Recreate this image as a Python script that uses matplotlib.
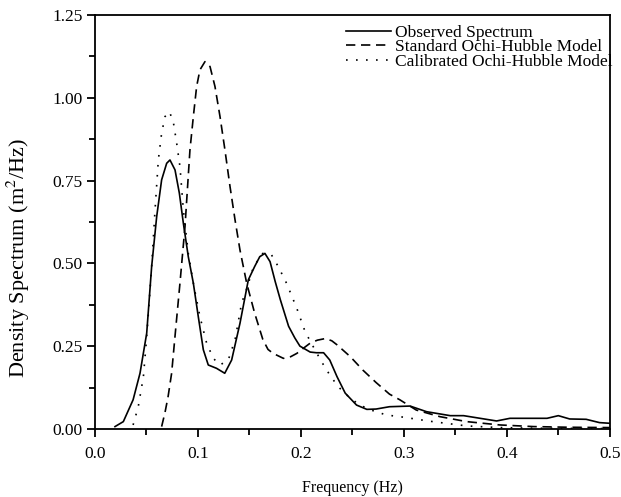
import numpy as np
import matplotlib
matplotlib.use('Agg')
import matplotlib.pyplot as plt

# Observed spectrum
obs_f = [0.0194, 0.0275, 0.037, 0.0437, 0.0502, 0.055, 0.0599, 0.0647, 0.0696, 0.0728,
         0.0777, 0.0819, 0.0858, 0.0906, 0.0955, 0.1003, 0.1052, 0.110, 0.118, 0.126,
         0.1327, 0.1408, 0.1489, 0.155, 0.160, 0.165, 0.170, 0.175, 0.180, 0.188,
         0.194, 0.199, 0.209, 0.215, 0.222, 0.228, 0.235, 0.243, 0.254, 0.264,
         0.273, 0.286, 0.306, 0.322, 0.345, 0.358, 0.39, 0.403, 0.439, 0.45,
         0.461, 0.477, 0.49, 0.5]
obs_s = [0.007, 0.022, 0.088, 0.168, 0.289, 0.49, 0.641, 0.752, 0.802, 0.812,
         0.782, 0.712, 0.621, 0.52, 0.44, 0.339, 0.239, 0.193, 0.183, 0.168,
         0.208, 0.319, 0.45, 0.49, 0.52, 0.53, 0.505, 0.445, 0.39, 0.31,
         0.275, 0.25, 0.232, 0.23, 0.23, 0.208, 0.158, 0.108, 0.072, 0.059,
         0.06, 0.067, 0.069, 0.052, 0.04, 0.04, 0.024, 0.032, 0.032, 0.04,
         0.03, 0.029, 0.019, 0.017]

# Standard Ochi-Hubble model
std_f = [0.0647, 0.068, 0.071, 0.0744, 0.078, 0.0825, 0.0874, 0.0922, 0.0955, 0.0987,
         0.1019, 0.1068, 0.1117, 0.1165, 0.1214, 0.1262, 0.1311, 0.136, 0.1408, 0.1473,
         0.155, 0.163, 0.168, 0.173, 0.183, 0.19, 0.196, 0.203, 0.209, 0.216,
         0.224, 0.23, 0.235, 0.248, 0.26, 0.273, 0.286, 0.296, 0.312, 0.335,
         0.361, 0.393, 0.426, 0.46, 0.5]
std_s = [0.007, 0.05, 0.098, 0.168, 0.29, 0.44, 0.611, 0.842, 0.943, 1.034,
         1.084, 1.109, 1.094, 1.034, 0.943, 0.842, 0.732, 0.631, 0.54, 0.44,
         0.35, 0.27, 0.24, 0.228, 0.213, 0.218, 0.228, 0.245, 0.259, 0.268,
         0.273, 0.266, 0.254, 0.218, 0.178, 0.14, 0.105, 0.088, 0.057, 0.037,
         0.022, 0.012, 0.007, 0.005, 0.004]

# Calibrated Ochi-Hubble model
cal_f = [0.037, 0.042, 0.047, 0.050, 0.053, 0.055, 0.0583, 0.0615, 0.0647, 0.068,
         0.0722, 0.076, 0.0793, 0.0825, 0.0858, 0.0906, 0.0955, 0.1019, 0.1084, 0.1149,
         0.1214, 0.1294, 0.136, 0.1424, 0.147, 0.154, 0.163, 0.1715, 0.178, 0.186,
         0.196, 0.204, 0.212, 0.22, 0.228, 0.236, 0.246, 0.257, 0.270, 0.283,
         0.296, 0.328, 0.361, 0.393, 0.43, 0.5]
cal_s = [0.012, 0.067, 0.158, 0.27, 0.40, 0.49, 0.661, 0.812, 0.893, 0.943,
         0.958, 0.928, 0.863, 0.792, 0.661, 0.53, 0.44, 0.339, 0.259, 0.213,
         0.193, 0.208, 0.269, 0.38, 0.42, 0.49, 0.53, 0.525, 0.49, 0.44,
         0.364, 0.294, 0.248, 0.203, 0.163, 0.128, 0.098, 0.072, 0.055, 0.042,
         0.037, 0.022, 0.009, 0.004, 0.002, 0.001]

plt.rcParams['font.family'] = ['Liberation Serif', 'DejaVu Serif']
plt.rcParams['mathtext.fontset'] = 'stix'

fig = plt.figure(figsize=(6.21, 4.97), dpi=100)
ax = fig.add_axes([0.153, 0.137, 0.829, 0.833])

ax.plot(obs_f, obs_s, color='black', lw=1.2, ls='-', label='Observed Spectrum')
ax.plot(std_f, std_s, color='black', lw=1.2, ls=(0, (5.6, 3.4)), label='Standard Ochi-Hubble Model')
ax.plot(cal_f, cal_s, color='black', lw=1.2, ls=(0, (1, 5)), label='Calibrated Ochi-Hubble Model')

ax.set_xlim(0, 0.5)
ax.set_ylim(0, 1.25)
ax.set_xticks(np.arange(0, 0.51, 0.1))
ax.set_xticks(np.arange(0.05, 0.5, 0.1), minor=True)
ax.set_yticks(np.arange(0, 1.26, 0.25))
ax.set_yticks(np.arange(0.125, 1.25, 0.25), minor=True)
ax.set_xticklabels(['0.0', '0.1', '0.2', '0.3', '0.4', '0.5'])
ax.set_yticklabels(['0.00', '0.25', '0.50', '0.75', '1.00', '1.25'])
ax.tick_params(which='major', direction='out', length=6, width=1.3, labelsize=12.5, top=False, right=False)
ax.tick_params(which='minor', direction='out', length=4, width=1.3, top=False, right=False)
ax.tick_params(axis='x', which='major', pad=6)
ax.tick_params(axis='y', which='major', pad=3)
for sp in ax.spines.values():
    sp.set_linewidth(1.3)

ax.set_xlabel('Frequency (Hz)', fontsize=11.5, labelpad=13)
ax.set_ylabel('Density Spectrum (m$^2$/Hz)', fontsize=16)
ax.yaxis.set_label_coords(-0.122, 0.413)

ax.legend(loc='upper right', bbox_to_anchor=(1.005, 0.977), frameon=False, fontsize=12.5,
          handlelength=2.6, handletextpad=0.2, labelspacing=-0.08, borderaxespad=0, borderpad=0)

fig.savefig('out.png', dpi=100)
